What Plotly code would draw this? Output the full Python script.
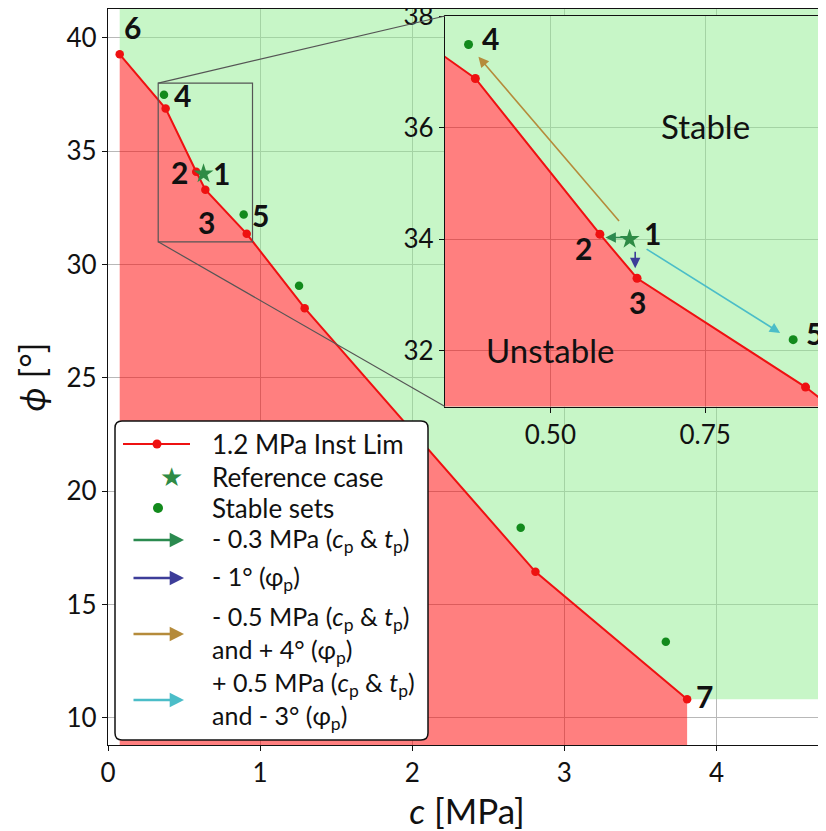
import plotly.graph_objects as go

# ---------------- data ----------------
limit_c = [0.077, 0.379, 0.580, 0.640, 0.912, 1.293, 2.810, 3.807]
limit_phi = [39.27, 36.88, 34.09, 33.30, 31.35, 28.07, 16.44, 10.82]

ref_c = [0.628]
ref_phi = [34.0]

stable_c = [0.368, 0.892, 1.256, 2.713, 3.667]
stable_phi = [37.49, 32.20, 29.06, 18.38, 13.35]

x_range = [0, 4.72]
y_range = [8.8, 41.27]
x_ticks = [0, 1, 2, 3, 4]
y_ticks = [10, 15, 20, 25, 30, 35, 40]

zoom_box_c = [0.33, 0.95]
zoom_box_phi = [31, 38]
inset_x_range = [0.33, 0.945]
inset_y_range = [31, 38.0001]
inset_x_ticks = [0.5, 0.75]
inset_x_ticklabels = ["0.50", "0.75"]
inset_y_ticks = [32, 34, 36, 38]

main_label_text = ["6", "4", "2", "1", "3", "5", "7"]
main_label_c = [0.164, 0.489, 0.472, 0.745, 0.647, 1.000, 3.923]
main_label_phi = [40.49, 37.48, 34.09, 34.02, 31.89, 32.18, 10.94]

inset_label_text = ["4", "1", "2", "3", "5"]
inset_label_c = [0.403, 0.665, 0.554, 0.640, 0.927]
inset_label_phi = [37.60, 34.11, 33.84, 32.88, 32.32]

region_text = ["Stable", "Unstable"]
region_c = [0.75, 0.50]
region_phi = [36.03, 32.02]

arrow_labels = [
    "- 0.3 MPa (<i>c</i><sub>p</sub> & <i>t</i><sub>p</sub>)",
    "- 1° (φ<sub>p</sub>)",
    "- 0.5 MPa (<i>c</i><sub>p</sub> & <i>t</i><sub>p</sub>)<br>and + 4° (φ<sub>p</sub>)",
    "+ 0.5 MPa (<i>c</i><sub>p</sub> & <i>t</i><sub>p</sub>)<br>and - 3° (φ<sub>p</sub>)",
]
arrow_colors = ["#2b8a4f", "#3d3d99", "#b58b3b", "#4bbdc8"]
arrow_tail_c = [0.626, 0.637, 0.613, 0.653]
arrow_tail_phi = [34.03, 33.80, 34.30, 33.84]
arrow_head_c = [0.589, 0.637, 0.384, 0.871]
arrow_head_phi = [34.03, 33.48, 37.27, 32.32]

series_labels = ["1.2 MPa Inst Lim", "Reference case", "Stable sets"]

# ---------------- styles ----------------
FONT = "Lato"
RED_FILL = "rgba(255,0,0,0.5)"
GREEN_FILL = "rgba(144,238,144,0.5)"
LINE_RED = "#ee1111"
DOT_GREEN = "#128a1c"
STAR_GREEN = "#2e8b45"
GRID = "#b8b8b8"

OFF = 8                      # page body margin
W, H = 826 - OFF, 831 - OFF  # figure size
L, R, T, B = 108, 826, 9, 745  # plot area in page pixels


def px(x):
    return (x - L) / (R - L)


def py(y):
    return (B - y) / (B - T)


# polygons for the regions
red_x = limit_c + [limit_c[-1], limit_c[0]]
red_y = limit_phi + [y_range[0] - 2, y_range[0] - 2]
green_x = [limit_c[0]] + limit_c + [x_range[1] + 2, x_range[1] + 2, limit_c[0]]
green_y = [y_range[1] + 2] + limit_phi + [limit_phi[-1], y_range[1] + 2, y_range[1] + 2]

fig = go.Figure()


def add_panel(xa, ya, msize, ssize):
    fig.add_trace(go.Scatter(x=red_x, y=red_y, fill="toself", fillcolor=RED_FILL,
                             line=dict(width=0), mode="lines", hoverinfo="skip",
                             xaxis=xa, yaxis=ya, showlegend=False))
    fig.add_trace(go.Scatter(x=green_x, y=green_y, fill="toself", fillcolor=GREEN_FILL,
                             line=dict(width=0), mode="lines", hoverinfo="skip",
                             xaxis=xa, yaxis=ya, showlegend=False))
    fig.add_trace(go.Scatter(x=limit_c, y=limit_phi, mode="lines+markers",
                             line=dict(color=LINE_RED, width=2),
                             marker=dict(color=LINE_RED, size=msize),
                             xaxis=xa, yaxis=ya, showlegend=False,
                             name=series_labels[0]))
    fig.add_trace(go.Scatter(x=stable_c, y=stable_phi, mode="markers",
                             marker=dict(color=DOT_GREEN, size=msize),
                             xaxis=xa, yaxis=ya, showlegend=False,
                             name=series_labels[2]))
    fig.add_trace(go.Scatter(x=ref_c, y=ref_phi, mode="markers",
                             marker=dict(color=STAR_GREEN, size=ssize, symbol="star"),
                             xaxis=xa, yaxis=ya, showlegend=False,
                             name=series_labels[1]))


add_panel("x", "y", 8.5, 15)
add_panel("x2", "y2", 9, 15)

annotations = []
shapes = []

# point labels, main
for t, c, p in zip(main_label_text, main_label_c, main_label_phi):
    annotations.append(dict(x=c, y=p, xref="x", yref="y", text="<b>%s</b>" % t,
                            showarrow=False, font=dict(family=FONT, size=30, color="#111")))
# inset arrows
for col, tc, tp, hc, hp in zip(arrow_colors, arrow_tail_c, arrow_tail_phi, arrow_head_c, arrow_head_phi):
    annotations.append(dict(x=hc, y=hp, ax=tc, ay=tp, xref="x2", yref="y2",
                            axref="x2", ayref="y2", showarrow=True, arrowhead=2,
                            arrowsize=1.3, arrowwidth=1.6, arrowcolor=col, text=""))
# inset labels
for t, c, p in zip(inset_label_text, inset_label_c, inset_label_phi):
    annotations.append(dict(x=c, y=p, xref="x2", yref="y2", text="<b>%s</b>" % t,
                            showarrow=False, font=dict(family=FONT, size=30, color="#111")))
for t, c, p in zip(region_text, region_c, region_phi):
    annotations.append(dict(x=c, y=p, xref="x2", yref="y2", text=t,
                            showarrow=False, font=dict(family=FONT, size=33, color="#111")))

# zoom rectangle on main axes
shapes.append(dict(type="rect", xref="x", yref="y", x0=zoom_box_c[0], x1=zoom_box_c[1],
                   y0=zoom_box_phi[0], y1=zoom_box_phi[1],
                   line=dict(color="#555", width=1.2), layer="above"))

# connector lines (paper coords from axis ranges and inset domain)
inset_dom_x = [px(445), 1.0]
inset_dom_y = [py(406.6), py(16)]


def to_paper(c, p):
    return ((c - x_range[0]) / (x_range[1] - x_range[0]),
            (p - y_range[0]) / (y_range[1] - y_range[0]))


tl = to_paper(zoom_box_c[0], zoom_box_phi[1])
bl = to_paper(zoom_box_c[0], zoom_box_phi[0])
shapes.append(dict(type="line", xref="paper", yref="paper", x0=tl[0], y0=tl[1],
                   x1=inset_dom_x[0], y1=inset_dom_y[1], line=dict(color="#555", width=1.2), layer="above"))
shapes.append(dict(type="line", xref="paper", yref="paper", x0=bl[0], y0=bl[1],
                   x1=inset_dom_x[0], y1=inset_dom_y[0], line=dict(color="#555", width=1.2), layer="above"))

# ---------------- manual legend ----------------
lx0, lx1, ly0, ly1, rad = 115, 428, 421, 740, 7
rx = rad / (R - L)
ry = rad / (B - T)
X0, X1, Y0, Y1 = px(lx0), px(lx1), py(ly1), py(ly0)
path = (f"M {X0+rx},{Y0} L {X1-rx},{Y0} Q {X1},{Y0} {X1},{Y0+ry} "
        f"L {X1},{Y1-ry} Q {X1},{Y1} {X1-rx},{Y1} L {X0+rx},{Y1} Q {X0},{Y1} {X0},{Y1-ry} "
        f"L {X0},{Y0+ry} Q {X0},{Y0} {X0+rx},{Y0} Z")
shapes.append(dict(type="path", path=path, xref="paper", yref="paper",
                   fillcolor="white", line=dict(color="#111", width=1.5), layer="above"))

row_y = [444, 477, 508, 540, 578, 634, 700]
text_x = 210
# line sample
shapes.append(dict(type="line", xref="paper", yref="paper", x0=px(123), x1=px(190),
                   y0=py(row_y[0]), y1=py(row_y[0]), line=dict(color=LINE_RED, width=2.2), layer="above"))
shapes.append(dict(type="circle", xref="paper", yref="paper", x0=px(152.5), x1=px(161.5),
                   y0=py(row_y[0] + 4.5), y1=py(row_y[0] - 4.5),
                   fillcolor=LINE_RED, line=dict(width=0), layer="above"))
# star sample
annotations.append(dict(x=px(158), y=py(row_y[1]), xref="paper", yref="paper", text="★",
                        showarrow=False, font=dict(family="DejaVu Sans", size=26, color=STAR_GREEN)))
# circle sample
shapes.append(dict(type="circle", xref="paper", yref="paper", x0=px(153), x1=px(163),
                   y0=py(row_y[2] + 5), y1=py(row_y[2] - 5),
                   fillcolor=DOT_GREEN, line=dict(width=0), layer="above"))
for t, yy in zip(series_labels, row_y[:3]):
    annotations.append(dict(x=px(text_x), y=py(yy), xref="paper", yref="paper", text=t,
                            xanchor="left", yanchor="middle", align="left", showarrow=False,
                            font=dict(family=FONT, size=26, color="#111")))
for t, col, yy in zip(arrow_labels, arrow_colors, row_y[3:]):
    annotations.append(dict(x=px(184), y=py(yy), xref="paper", yref="paper", ax=-52, ay=0,
                            showarrow=True, arrowhead=2, arrowsize=1.1, arrowwidth=2.6,
                            arrowcolor=col, text=""))
    annotations.append(dict(x=px(text_x), y=py(yy), xref="paper", yref="paper", text=t,
                            xanchor="left", yanchor="middle", align="left", showarrow=False,
                            font=dict(family=FONT, size=25, color="#111")))

axis_common = dict(showgrid=True, gridcolor=GRID, gridwidth=1, showline=True,
                   linecolor="#111", linewidth=1.3, ticks="outside", ticklen=5,
                   tickcolor="#111", tickfont=dict(family=FONT, size=26, color="#111"),
                   zeroline=False, ticklabeloverflow="allow", automargin=False)

fig.update_layout(
    width=W, height=H,
    margin=dict(l=L - OFF, r=(W + OFF) - R, t=T - OFF, b=(H + OFF) - B, pad=0,
                autoexpand=False),
    paper_bgcolor="white", plot_bgcolor="white",
    showlegend=False,
    font=dict(family=FONT, color="#111"),
    xaxis=dict(domain=[0, 1], range=x_range, tickvals=x_ticks, mirror=True,
               title=dict(text="<i>c</i> [MPa]", font=dict(family=FONT, size=35), standoff=12),
               **axis_common),
    yaxis=dict(domain=[0, 1], range=y_range, tickvals=y_ticks,
               title=dict(text="<i>ϕ</i> [°]", font=dict(family=FONT, size=35), standoff=10),
               **axis_common),
    xaxis2=dict(domain=inset_dom_x, range=inset_x_range, tickvals=inset_x_ticks,
                ticktext=inset_x_ticklabels, anchor="y2", mirror=True, **axis_common),
    yaxis2=dict(domain=inset_dom_y, range=inset_y_range, tickvals=inset_y_ticks,
                anchor="x2", **axis_common),
    annotations=annotations,
    shapes=shapes,
)

fig.write_html("out.html")
